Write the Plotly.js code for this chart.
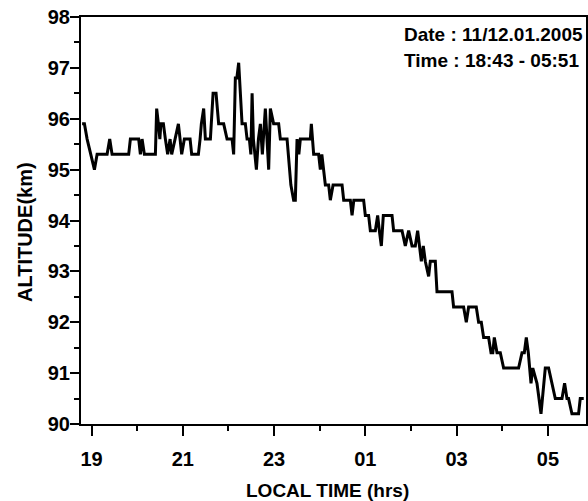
<!DOCTYPE html>
<html>
<head>
<meta charset="utf-8">
<script src="https://cdn.plot.ly/plotly-3.0.1.min.js"></script>
<style>
html,body{margin:0;padding:0;background:#fff;}
#chart{width:588px;height:501px;}
</style>
</head>
<body>
<div id="chart"></div>
<script>
// Local time in decimal hours (after midnight shown as 24+)
const time_hr = [
18.794,18.845,18.904,18.976,19.064,19.123,19.342,19.399,19.451,19.815,
19.852,20.034,20.071,20.108,20.159,20.400,20.428,20.466,20.498,20.520,
20.575,20.619,20.669,20.722,20.757,20.831,20.904,20.941,20.976,21.035,
21.160,21.195,21.342,21.379,21.407,21.458,21.495,21.605,21.664,21.729,
21.786,21.896,21.970,22.080,22.115,22.152,22.185,22.225,22.262,22.299,
22.371,22.409,22.459,22.492,22.519,22.547,22.613,22.657,22.700,22.744,
22.809,22.882,22.919,22.991,23.101,23.138,23.285,23.313,23.368,23.429,
23.466,23.504,23.543,23.576,23.795,23.817,23.868,23.977,24.014,24.047,
24.080,24.124,24.196,24.233,24.293,24.490,24.526,24.671,24.709,24.748,
24.963,25.000,25.072,25.110,25.219,25.270,25.307,25.351,25.394,25.585,
25.620,25.804,25.876,25.949,26.023,26.095,26.146,26.183,26.227,26.270,
26.314,26.387,26.424,26.533,26.570,26.899,26.934,27.153,27.212,27.263,
27.431,27.482,27.541,27.592,27.701,27.754,27.793,27.826,27.885,27.957,
28.030,28.358,28.433,28.483,28.527,28.571,28.630,28.669,28.761,28.849,
28.943,29.015,29.089,29.162,29.309,29.366,29.418,29.453,29.527,29.672,
29.709,29.785
];
const altitude_km = [
95.9,95.9,95.6,95.3,95.0,95.3,95.3,95.6,95.3,95.3,
95.6,95.6,95.3,95.6,95.3,95.3,96.2,95.9,95.6,95.9,
95.9,95.6,95.3,95.6,95.3,95.6,95.9,95.6,95.3,95.6,
95.6,95.3,95.3,95.6,95.9,96.2,95.6,95.6,96.5,96.5,
95.9,95.9,95.6,95.6,95.3,96.8,96.8,97.1,96.5,95.9,
95.9,95.6,95.6,95.3,96.5,95.6,95.0,95.6,95.9,95.3,
96.2,95.0,96.2,95.9,95.9,95.6,95.6,95.3,94.7,94.4,
94.4,95.6,95.3,95.6,95.6,95.9,95.3,95.3,95.0,95.3,
95.0,94.7,94.7,94.4,94.7,94.7,94.4,94.4,94.1,94.4,
94.4,94.1,94.1,93.8,93.8,94.1,93.8,93.5,94.1,94.1,
93.8,93.8,93.5,93.8,93.5,93.5,93.8,93.5,93.2,93.5,
93.2,92.9,93.2,93.2,92.6,92.6,92.3,92.3,92.0,92.3,
92.3,92.0,92.0,91.7,91.7,91.4,91.4,91.7,91.4,91.4,
91.1,91.1,91.4,91.4,91.7,91.4,90.8,91.1,90.8,90.2,
91.1,91.1,90.8,90.5,90.5,90.8,90.5,90.5,90.2,90.2,
90.5,90.5
];
const xTickVals = [19, 21, 23, 25, 27, 29];
const xTickText = ['19', '21', '23', '01', '03', '05'];
const infoLines = ['Date : 11/12.01.2005', 'Time : 18:43 - 05:51'];
const xTitle = 'LOCAL TIME (hrs)';
const yTitle = 'ALTITUDE(km)';

const FONT = 'Liberation Sans, Arial, sans-serif';
const bold = (s) => ({family: FONT, size: s, color: '#000', weight: 'bold'});

const trace = {
  x: time_hr, y: altitude_km, type: 'scatter', mode: 'lines',
  line: {color: '#000', width: 3}
};

const layout = {
  width: 588, height: 501,
  margin: {l: 81, r: 2, t: 17, b: 77, pad: 0},
  paper_bgcolor: '#fff', plot_bgcolor: '#fff',
  font: bold(18),
  showlegend: false,
  xaxis: {
    range: [18.77, 29.835], tickmode: 'array', tickvals: xTickVals, ticktext: xTickText,
    ticks: 'outside', ticklen: 10, tickwidth: 2, tickcolor: '#000',
    minor: {tickmode: 'linear', tick0: 20, dtick: 2, ticks: 'outside', ticklen: 5, tickwidth: 2, tickcolor: '#000'},
    showline: true, linewidth: 2, linecolor: '#000', mirror: true,
    showgrid: false, zeroline: false,
    tickfont: bold(20),
    ticklabelstandoff: 6
  },
  yaxis: {
    range: [90, 98], tickmode: 'linear', tick0: 90, dtick: 1,
    ticks: 'outside', ticklen: 9, tickwidth: 2, tickcolor: '#000',
    minor: {tickmode: 'linear', tick0: 90.5, dtick: 1, ticks: 'outside', ticklen: 5, tickwidth: 2, tickcolor: '#000'},
    showline: true, linewidth: 2, linecolor: '#000', mirror: true,
    showgrid: false, zeroline: false,
    tickfont: bold(20),
    ticklabelstandoff: -4
  },
  annotations: infoLines.map((t, i) => ({
    text: t, xref: 'paper', yref: 'paper', x: 0.635, y: i === 0 ? 0.956 : 0.894,
    xanchor: 'left', yanchor: 'middle', showarrow: false, font: bold(19)
  })).concat([
    {text: xTitle, xref: 'paper', yref: 'paper', x: 0.489, y: -0.1646,
     xanchor: 'center', yanchor: 'middle', showarrow: false, font: bold(19)},
    {text: yTitle, xref: 'paper', yref: 'paper', x: -0.1109, y: 0.4717, textangle: -90,
     xanchor: 'center', yanchor: 'middle', showarrow: false, font: bold(20)}
  ])
};

Plotly.newPlot('chart', [trace], layout, {displayModeBar: false, staticPlot: true});
</script>
</body>
</html>
